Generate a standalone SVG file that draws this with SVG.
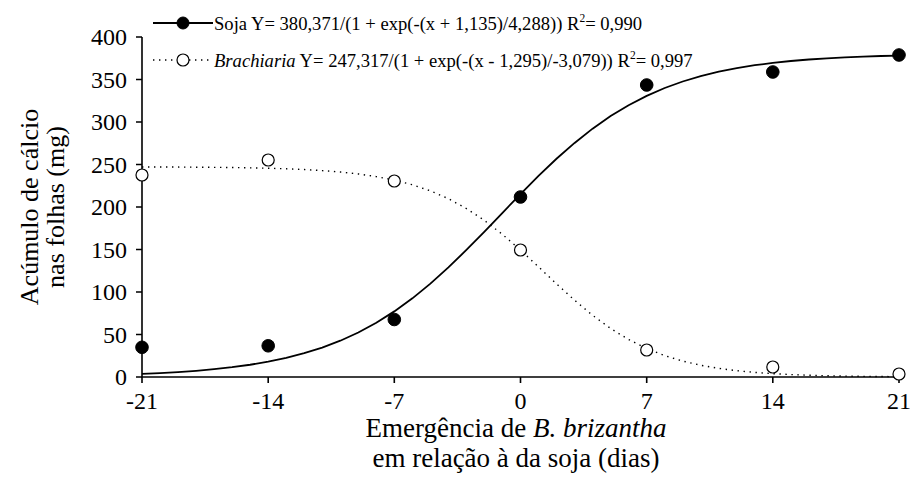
<svg xmlns="http://www.w3.org/2000/svg" width="910" height="488" viewBox="0 0 910 488" font-family="'Liberation Serif', 'Times New Roman', 'DejaVu Serif', serif">
<style>
text{font-family:'Liberation Serif','Times New Roman','DejaVu Serif',serif;fill:#000}
.tk{font-size:24px}
.ttl{font-size:27px}
.yt{font-size:26px}
.lg{font-size:18.6px}
.ax{stroke:#000;stroke-width:1.6;fill:none}
.soja{stroke:#000;stroke-width:1.8;fill:none}
.brac{stroke:#000;stroke-width:1.4;fill:none;stroke-dasharray:1.4 4.6}
.pf{fill:#000;stroke:#000;stroke-width:1}
.po{fill:#fff;stroke:#000;stroke-width:1.2}
</style>
<rect width="910" height="488" fill="#fff"/>
<g id="axes">
<path class="ax" d="M142,37V377H899"/>
<path class="ax" d="M136,37H142M136,79.5H142M136,122H142M136,164.5H142M136,207H142M136,249.5H142M136,292H142M136,334.5H142M136,377H142"/>
<path class="ax" d="M142,377V383M268.2,377V383M394.3,377V383M520.5,377V383M646.7,377V383M772.8,377V383M899,377V383"/>
</g>
<g id="ylabels" class="tk" text-anchor="end">
<text x="127" y="45">400</text>
<text x="127" y="87.5">350</text>
<text x="127" y="130">300</text>
<text x="127" y="172.5">250</text>
<text x="127" y="215">200</text>
<text x="127" y="257.5">150</text>
<text x="127" y="300">100</text>
<text x="127" y="342.5">50</text>
<text x="127" y="385">0</text>
</g>
<g id="xlabels" class="tk" text-anchor="middle">
<text x="142" y="409">-21</text>
<text x="268.2" y="409">-14</text>
<text x="394.3" y="409">-7</text>
<text x="520.5" y="409">0</text>
<text x="646.7" y="409">7</text>
<text x="772.8" y="409">14</text>
<text x="899" y="409">21</text>
</g>
<g id="xtitle" class="ttl" text-anchor="middle">
<text x="516" y="437">Emergência de <tspan font-style="italic">B. brizantha</tspan></text>
<text x="516" y="467">em relação à da soja (dias)</text>
</g>
<g id="ytitle" class="yt" text-anchor="middle">
<text transform="translate(38,207) rotate(-90)">Acúmulo de cálcio</text>
<text transform="translate(64,207) rotate(-90)">nas folhas (mg)</text>
</g>
<g id="connectors">
<polyline class="soja" points="142,373.89 160,373.08 178,372.06 196.1,370.79 214.1,369.2 232.1,367.21 250.1,364.74 268.2,361.67 286.2,357.88 304.2,353.22 322.2,347.56 340.3,340.7 358.3,332.48 376.3,322.74 394.3,311.38 412.4,298.33 430.4,283.64 448.4,267.43 466.4,249.95 484.5,231.58 502.5,212.78 520.5,194.08 538.5,175.9 556.5,158.76 574.6,142.92 592.6,128.66 610.6,116.08 628.6,105.17 646.7,95.85 664.7,88.02 682.7,81.5 700.7,76.11 718.8,71.7 736.8,68.12 754.8,65.23 772.8,62.89 790.9,61.02 808.9,59.52 826.9,58.33 844.9,57.37 863,56.61 881,56 899,55.53"/>
<polyline class="brac" points="142,166.93 160,166.99 178,167.07 196.1,167.18 214.1,167.33 232.1,167.54 250.1,167.83 268.2,168.23 286.2,168.78 304.2,169.55 322.2,170.59 340.3,172.01 358.3,173.94 376.3,176.57 394.3,180.09 412.4,184.76 430.4,190.87 448.4,198.71 466.4,208.55 484.5,220.46 502.5,234.45 520.5,250.1 538.5,266.86 556.5,283.87 574.6,300.27 592.6,315.31 610.6,328.46 628.6,339.52 646.7,348.51 664.7,355.61 682.7,361.09 700.7,365.25 718.8,368.38 736.8,370.7 754.8,372.41 772.8,373.66 790.9,374.58 808.9,375.24 826.9,375.73 844.9,376.08 863,376.33 881,376.52 899,376.65"/>
</g>
<g id="soja-points">
<circle class="pf" cx="142" cy="347.3" r="6.3"/>
<circle class="pf" cx="268.2" cy="345.8" r="6.3"/>
<circle class="pf" cx="394.3" cy="319.5" r="6.3"/>
<circle class="pf" cx="520.5" cy="197" r="6.3"/>
<circle class="pf" cx="646.7" cy="85" r="6.3"/>
<circle class="pf" cx="772.8" cy="72" r="6.3"/>
<circle class="pf" cx="899" cy="55" r="6.3"/>
</g>
<g id="brachiaria-points">
<circle class="po" cx="142" cy="175" r="6"/>
<circle class="po" cx="268.2" cy="160" r="6"/>
<circle class="po" cx="394.3" cy="181" r="6"/>
<circle class="po" cx="520.5" cy="250" r="6"/>
<circle class="po" cx="646.7" cy="350" r="6"/>
<circle class="po" cx="772.8" cy="367" r="6"/>
<circle class="po" cx="899" cy="374" r="6"/>
</g>
<g id="legend">
<line class="soja" x1="153" y1="23" x2="213" y2="23"/>
<circle class="pf" cx="183" cy="23" r="6"/>
<text class="lg" x="214" y="29.5">Soja Y= 380,371/(1 + exp(-(x + 1,135)/4,288)) R<tspan font-size="11.5" dy="-7.5">2</tspan><tspan dy="7.5">= 0,990</tspan></text>
<line class="brac" x1="153" y1="60" x2="213" y2="60"/>
<circle class="po" cx="183" cy="60" r="6"/>
<text class="lg" x="214" y="66.5"><tspan font-style="italic">Brachiaria</tspan> Y= 247,317/(1 + exp(-(x - 1,295)/-3,079)) R<tspan font-size="11.5" dy="-7.5">2</tspan><tspan dy="7.5">= 0,997</tspan></text>
</g>
</svg>
